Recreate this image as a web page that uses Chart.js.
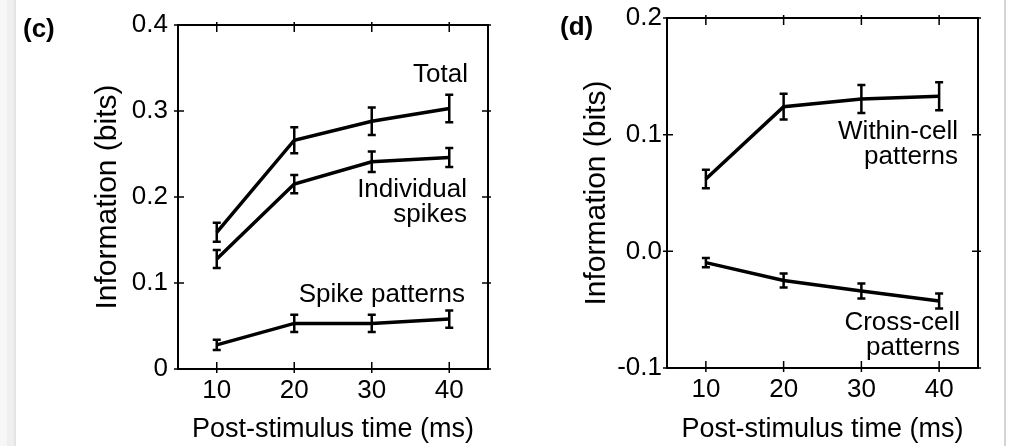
<!DOCTYPE html>
<html lang="en">
<head>
<meta charset="UTF-8" />
<title>Information vs post-stimulus time</title>
<script src="https://cdn.jsdelivr.net/npm/chart.js"></script>
<style>
  body {
    margin: 0;
    width: 1010px;
    height: 446px;
    position: relative;
    overflow: hidden;
    background: #fff;
    font-family: "Liberation Sans", Arial, sans-serif;
    color: #000;
  }
  .edge-l {
    position: absolute; left: 0; top: 0; width: 16px; height: 446px;
    background: linear-gradient(to right, #f7f7f7 0, #f7f7f7 7px, #efefef 7px, #efefef 14px, #e4e4e4 14px, #e4e4e4 16px);
  }
  .edge-r { position: absolute; left: 1004px; top: 0; width: 2px; height: 446px; background: #d4d4d4; }
  .panel { position: absolute; top: 0; width: 505px; height: 446px; }
  .note {
    position: absolute;
    font-size: 26px;
    line-height: 25px;
    text-align: right;
    white-space: nowrap;
  }
  .tag { position: absolute; font-size: 26px; line-height: 25px; font-weight: bold; }
</style>
</head>
<body>

<div class="edge-l"></div>
<div class="edge-r"></div>

<div class="panel" style="left:0"><canvas id="chartC" width="505" height="446"></canvas></div>
<div class="panel" style="left:505px"><canvas id="chartD" width="505" height="446"></canvas></div>

<div class="tag" style="left:23px; top:16px">(c)</div>
<div class="tag" style="left:560px; top:14px">(d)</div>

<div class="note" style="right:542px; top:61px">Total</div>
<div class="note" style="right:543px; top:176px">Individual<br>spikes</div>
<div class="note" style="right:545px; top:281px">Spike patterns</div>
<div class="note" style="right:52px; top:118px">Within-cell<br>patterns</div>
<div class="note" style="right:50px; top:309px">Cross-cell<br>patterns</div>

<script>
  // post-stimulus time (ms)
  const times = [10, 20, 30, 40];

  // panel (c)
  const total = [0.159, 0.266, 0.288, 0.303];
  const totalErr = [0.011, 0.015, 0.016, 0.016];
  const individual = [0.128, 0.215, 0.241, 0.246];
  const individualErr = [0.0105, 0.0105, 0.012, 0.011];
  const spikePatterns = [0.028, 0.053, 0.053, 0.058];
  const spikePatternsErr = [0.006, 0.01, 0.01, 0.01];

  // panel (d)
  const withinCell = [0.062, 0.124, 0.1305, 0.133];
  const withinCellErr = [0.008, 0.011, 0.012, 0.012];
  const crossCell = [-0.0097, -0.025, -0.034, -0.0425];
  const crossCellErr = [0.004, 0.006, 0.0064, 0.0064];

  // axes
  const xTicks = [10, 20, 30, 40];
  const yTicksC = [0, 0.1, 0.2, 0.3, 0.4];
  const yLabelsC = ['0', '0.1', '0.2', '0.3', '0.4'];
  const yTicksD = [-0.1, 0, 0.1, 0.2];
  const yLabelsD = ['-0.1', '0.0', '0.1', '0.2'];

  const FONT = '"Liberation Sans", Arial, sans-serif';

  // error bars, frame and inward tick marks
  const framePlugin = {
    id: 'frame',
    afterDatasetsDraw(chart) {
      const { ctx, chartArea: a, scales: { x, y } } = chart;
      ctx.save();
      ctx.strokeStyle = '#000';
      ctx.lineWidth = 2.5;
      chart.data.datasets.forEach(ds => {
        ds.data.forEach((p, i) => {
          const px = x.getPixelForValue(p.x);
          const lo = y.getPixelForValue(p.y - ds.errors[i]);
          const hi = y.getPixelForValue(p.y + ds.errors[i]);
          ctx.beginPath();
          ctx.moveTo(px, lo); ctx.lineTo(px, hi);
          ctx.moveTo(px - 4, lo); ctx.lineTo(px + 4, lo);
          ctx.moveTo(px - 4, hi); ctx.lineTo(px + 4, hi);
          ctx.stroke();
        });
      });

      ctx.lineWidth = 2;
      ctx.strokeRect(a.left, a.top, a.right - a.left, a.bottom - a.top);

      ctx.lineWidth = 1.5;
      ctx.beginPath();
      x.ticks.forEach(t => {
        const px = x.getPixelForValue(t.value);
        ctx.moveTo(px, a.bottom + 4); ctx.lineTo(px, a.bottom - 7);
        ctx.moveTo(px, a.top - 3); ctx.lineTo(px, a.top + 7);
      });
      y.ticks.forEach(t => {
        const py = y.getPixelForValue(t.value);
        ctx.moveTo(a.left - 4, py); ctx.lineTo(a.left + 6, py);
        ctx.moveTo(a.right + 3, py); ctx.lineTo(a.right - 6, py);
      });
      ctx.stroke();
      ctx.restore();
    }
  };

  function series(values, errors) {
    return {
      data: times.map((t, i) => ({ x: t, y: values[i] })),
      errors: errors,
      borderColor: '#000',
      borderWidth: 3.5,
      pointRadius: 0,
      tension: 0,
      fill: false
    };
  }

  function makeChart(id, datasets, yMin, yMax, yTicks, yLabels, box) {
    const ctx = document.getElementById(id).getContext('2d');
    return new Chart(ctx, {
      type: 'line',
      data: { datasets: datasets },
      options: {
        responsive: false,
        animation: false,
        events: [],
        layout: { padding: { left: box.padLeft, top: box.top, right: box.padRight, bottom: 0 } },
        plugins: { legend: { display: false }, tooltip: { enabled: false } },
        scales: {
          x: {
            type: 'linear',
            min: 5,
            max: 45,
            grid: { display: false, drawTicks: false },
            border: { display: false },
            afterBuildTicks: s => { s.ticks = xTicks.map(v => ({ value: v })); },
            afterFit: s => { s.height = box.xHeight; },
            ticks: {
              color: '#000',
              padding: 9,
              maxRotation: 0,
              font: { family: FONT, size: 26, lineHeight: 1 },
              callback: v => String(v)
            },
            title: {
              display: true,
              text: 'Post-stimulus time (ms)',
              color: '#000',
              padding: 0,
              font: { family: FONT, size: 27, lineHeight: 1.2 }
            }
          },
          y: {
            min: yMin,
            max: yMax,
            grid: { display: false, drawTicks: false },
            border: { display: false },
            afterBuildTicks: s => { s.ticks = yTicks.map(v => ({ value: v })); },
            afterFit: s => { s.width = box.yWidth; },
            ticks: {
              color: '#000',
              padding: box.tickPad,
              font: { family: FONT, size: 26, lineHeight: 1 },
              callback: (v, i) => yLabels[i]
            },
            title: {
              display: true,
              text: 'Information (bits)',
              color: '#000',
              padding: 0,
              font: { family: FONT, size: 30, lineHeight: 1.2 }
            }
          }
        }
      },
      plugins: [framePlugin]
    });
  }

  makeChart('chartC',
    [series(total, totalErr), series(individual, individualErr), series(spikePatterns, spikePatternsErr)],
    0, 0.4, yTicksC, yLabelsC,
    { padLeft: 90, top: 25, padRight: 17, yWidth: 88, xHeight: 77, tickPad: 10 });

  makeChart('chartD',
    [series(withinCell, withinCellErr), series(crossCell, crossCellErr)],
    -0.1, 0.2, yTicksD, yLabelsD,
    { padLeft: 74, top: 16, padRight: 32, yWidth: 88, xHeight: 78, tickPad: 5 });
</script>

</body>
</html>
